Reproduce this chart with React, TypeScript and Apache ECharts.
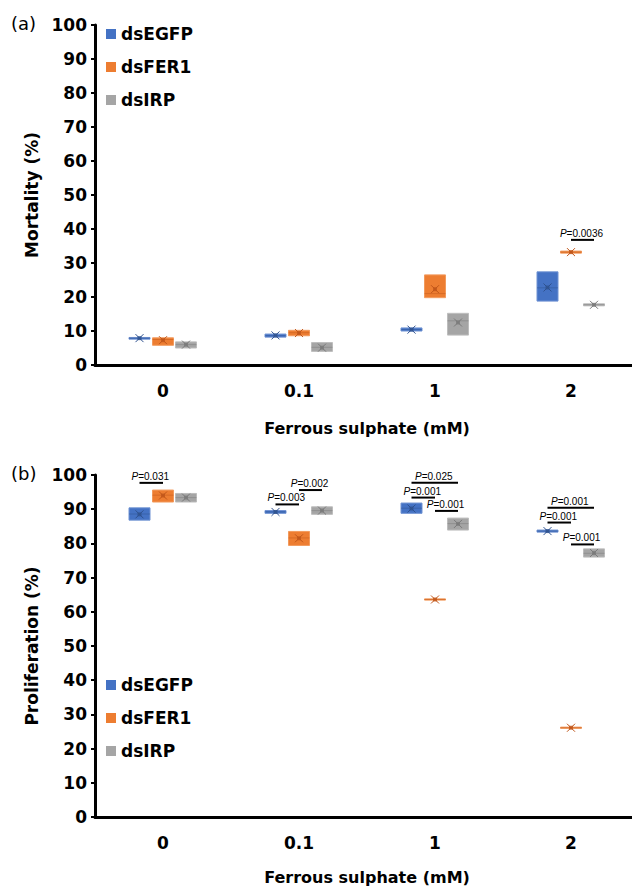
import React, { useEffect, useRef } from "react";
import * as echarts from "echarts";

const categories = ["0", "0.1", "1", "2"];
const seriesNames = ["dsEGFP", "dsFER1", "dsIRP"];

// Panel (a) Mortality (%) : box low, median, high, mean per category
const mortEGFPLow = [7.6, 8.2, 10.0, 18.8];
const mortEGFPMed = [7.9, 8.6, 10.4, 22.7];
const mortEGFPHigh = [8.1, 9.1, 10.9, 27.4];
const mortEGFPMean = [7.9, 8.7, 10.4, 22.8];

const mortFER1Low = [5.8, 8.6, 19.8, 32.9];
const mortFER1Med = [7.5, 9.5, 21.0, 33.2];
const mortFER1High = [8.0, 10.2, 26.5, 33.5];
const mortFER1Mean = [7.3, 9.4, 22.3, 33.2];

const mortIRPLow = [5.0, 4.0, 8.8, 17.4];
const mortIRPMed = [6.0, 5.2, 13.0, 17.7];
const mortIRPHigh = [6.8, 6.6, 15.2, 18.0];
const mortIRPMean = [6.0, 5.1, 12.5, 17.7];

// Panel (b) Proliferation (%)
const proEGFPLow = [86.8, 88.8, 88.8, 83.3];
const proEGFPMed = [88.6, 89.2, 90.3, 83.6];
const proEGFPHigh = [90.4, 89.6, 91.8, 83.9];
const proEGFPMean = [88.5, 89.2, 90.2, 83.6];

const proFER1Low = [92.1, 79.4, 63.5, 26.0];
const proFER1Med = [94.1, 81.6, 63.6, 26.1];
const proFER1High = [95.6, 83.5, 63.7, 26.2];
const proFER1Mean = [94.0, 81.5, 63.6, 26.1];

const proIRPLow = [92.1, 88.5, 83.9, 76.0];
const proIRPMed = [93.4, 89.6, 85.8, 77.1];
const proIRPHigh = [94.6, 90.7, 87.4, 78.4];
const proIRPMean = [93.4, 89.6, 85.7, 77.2];

// significance: [category, fromGroup, toGroup, y value, P label]
const sigMortality: [number, number, number, number, string][] = [
  [3, 1, 2, 36.8, "0.0036"],
];
const sigProliferation: [number, number, number, number, string][] = [
  [0, 0, 1, 97.7, "0.031"],
  [1, 0, 1, 91.4, "0.003"],
  [1, 1, 2, 95.6, "0.002"],
  [2, 0, 2, 97.7, "0.025"],
  [2, 0, 1, 93.4, "0.001"],
  [2, 1, 2, 89.5, "0.001"],
  [3, 0, 2, 90.4, "0.001"],
  [3, 0, 1, 86.1, "0.001"],
  [3, 1, 2, 79.7, "0.001"],
];

const fills = ["#4472C4", "#ED7D31", "#A5A5A5"];
const borders = ["#6F92D3", "#F29A5C", "#BDBDBD"];
const darks = ["#2F528F", "#C0561A", "#7A7A7A"];
const offsets = [-23.5, 0, 23];
const BOX_W = 21;
const BOLD = "DejaVu Sans";

function boxSeries(
  idx: number,
  grid: number,
  low: number[],
  med: number[],
  high: number[],
  mean: number[]
) {
  return {
    type: "custom",
    name: seriesNames[idx],
    xAxisIndex: grid,
    yAxisIndex: grid,
    itemStyle: { color: fills[idx] },
    encode: { x: 0, y: [1, 2, 3, 4] },
    data: categories.map((_, i) => [i, low[i], med[i], high[i], mean[i]]),
    z: 3,
    renderItem: (params: any, api: any) => {
      const cat = api.value(0);
      const pLow = api.coord([cat, api.value(1)]);
      const yMed = api.coord([cat, api.value(2)])[1];
      const yHigh = api.coord([cat, api.value(3)])[1];
      const yMean = api.coord([cat, api.value(4)])[1];
      const cx = pLow[0] + offsets[idx];
      const h = Math.max(pLow[1] - yHigh, 1.2);
      const top = (pLow[1] + yHigh) / 2 - h / 2;
      const m = 4;
      return {
        type: "group",
        children: [
          {
            type: "rect",
            shape: { x: cx - BOX_W / 2, y: top, width: BOX_W, height: h },
            style: { fill: fills[idx], stroke: borders[idx], lineWidth: 1 },
          },
          {
            type: "line",
            shape: { x1: cx - BOX_W / 2, y1: yMed, x2: cx + BOX_W / 2, y2: yMed },
            style: { stroke: darks[idx], lineWidth: 0.8, opacity: 0.6 },
          },
          {
            type: "line",
            shape: { x1: cx - m, y1: yMean - m, x2: cx + m, y2: yMean + m },
            style: { stroke: darks[idx], lineWidth: 1 },
          },
          {
            type: "line",
            shape: { x1: cx - m, y1: yMean + m, x2: cx + m, y2: yMean - m },
            style: { stroke: darks[idx], lineWidth: 1 },
          },
          {
            type: "rect",
            shape: { x: cx - 2, y: yMean - 2, width: 4, height: 4 },
            style: { fill: darks[idx], opacity: 0.8 },
          },
        ],
      };
    },
  };
}

function sigSeries(grid: number, list: [number, number, number, number, string][]) {
  return {
    type: "custom",
    name: "significance",
    xAxisIndex: grid,
    yAxisIndex: grid,
    encode: { x: 0, y: 3 },
    data: list.map((d) => [d[0], d[1], d[2], d[3]]),
    z: 4,
    renderItem: (params: any, api: any) => {
      const cat = api.value(0);
      const from = api.value(1);
      const to = api.value(2);
      const p = api.coord([cat, api.value(3)]);
      const x1 = p[0] + offsets[from];
      const x2 = p[0] + offsets[to];
      const label = list[params.dataIndex][4];
      return {
        type: "group",
        children: [
          {
            type: "line",
            shape: { x1, y1: p[1], x2, y2: p[1] },
            style: { stroke: "#000", lineWidth: 2 },
          },
          {
            type: "text",
            style: {
              text: "{i|P}=" + label,
              x: (x1 + x2) / 2 - 1,
              y: p[1] - 1.5,
              align: "center",
              verticalAlign: "bottom",
              fontSize: 10,
              fontFamily: "Liberation Sans",
              fill: "#000",
              rich: {
                i: { fontStyle: "italic", fontSize: 10, fontFamily: "Liberation Sans" },
              },
            },
          },
        ],
      };
    },
  };
}

function yAxisCfg(grid: number, name: string) {
  return {
    type: "value",
    gridIndex: grid,
    min: 0,
    max: 100,
    interval: 10,
    name,
    nameLocation: "middle",
    nameRotate: 90,
    nameGap: 52,
    nameTextStyle: { fontFamily: BOLD, fontWeight: "bold", fontSize: 17, color: "#000" },
    axisLine: { show: true, lineStyle: { color: "#000", width: 3 } },
    axisTick: { show: true, length: 4, lineStyle: { color: "#000", width: 2 } },
    axisLabel: { margin: 8, fontFamily: BOLD, fontWeight: "bold", fontSize: 17, color: "#000" },
    splitLine: { show: false },
  };
}

function xAxisCfg(grid: number, gap: number) {
  return {
    type: "category",
    gridIndex: grid,
    data: categories,
    name: "Ferrous sulphate (mM)",
    nameLocation: "middle",
    nameGap: gap,
    nameTextStyle: { fontFamily: BOLD, fontWeight: "bold", fontSize: 16, color: "#000" },
    axisLine: { show: true, lineStyle: { color: "#000", width: 3 } },
    axisTick: { show: false },
    axisLabel: { margin: 17, fontFamily: BOLD, fontWeight: "bold", fontSize: 17, color: "#000" },
    splitLine: { show: false },
  };
}

function legendCfg(top: number) {
  return {
    data: seriesNames,
    orient: "vertical",
    left: 106,
    top,
    padding: 0,
    icon: "rect",
    itemWidth: 10,
    itemHeight: 10,
    itemGap: 13,
    selectedMode: false,
    textStyle: { fontFamily: BOLD, fontWeight: "bold", fontSize: 17, color: "#000", lineHeight: 20 },
  };
}

export default function App() {
  const ref = useRef<HTMLDivElement>(null);
  useEffect(() => {
    document.body.style.margin = "0";
    if (!ref.current) return;
    const chart = echarts.init(ref.current, null, { renderer: "svg" });
    chart.setOption({
      animation: false,
      backgroundColor: "#fff",
      grid: [
        { left: 95, width: 544, top: 25, height: 340, outerBoundsMode: "none", containLabel: false },
        { left: 95, width: 544, top: 475, height: 342, outerBoundsMode: "none", containLabel: false },
      ],
      xAxis: [xAxisCfg(0, 55), xAxisCfg(1, 52)],
      yAxis: [yAxisCfg(0, "Mortality (%)"), yAxisCfg(1, "Proliferation (%)")],
      legend: [legendCfg(24), legendCfg(675)],
      graphic: [
        {
          type: "text",
          left: 11,
          top: 14,
          style: { text: "(a)", fontFamily: "DejaVu Sans", fontSize: 18, fill: "#000" },
        },
        {
          type: "text",
          left: 11,
          top: 464,
          style: { text: "(b)", fontFamily: "DejaVu Sans", fontSize: 18, fill: "#000" },
        },
      ],
      series: [
        boxSeries(0, 0, mortEGFPLow, mortEGFPMed, mortEGFPHigh, mortEGFPMean),
        boxSeries(1, 0, mortFER1Low, mortFER1Med, mortFER1High, mortFER1Mean),
        boxSeries(2, 0, mortIRPLow, mortIRPMed, mortIRPHigh, mortIRPMean),
        sigSeries(0, sigMortality),
        boxSeries(0, 1, proEGFPLow, proEGFPMed, proEGFPHigh, proEGFPMean),
        boxSeries(1, 1, proFER1Low, proFER1Med, proFER1High, proFER1Mean),
        boxSeries(2, 1, proIRPLow, proIRPMed, proIRPHigh, proIRPMean),
        sigSeries(1, sigProliferation),
      ],
    });
    return () => chart.dispose();
  }, []);
  return <div ref={ref} style={{ width: 632, height: 886 }} />;
}
